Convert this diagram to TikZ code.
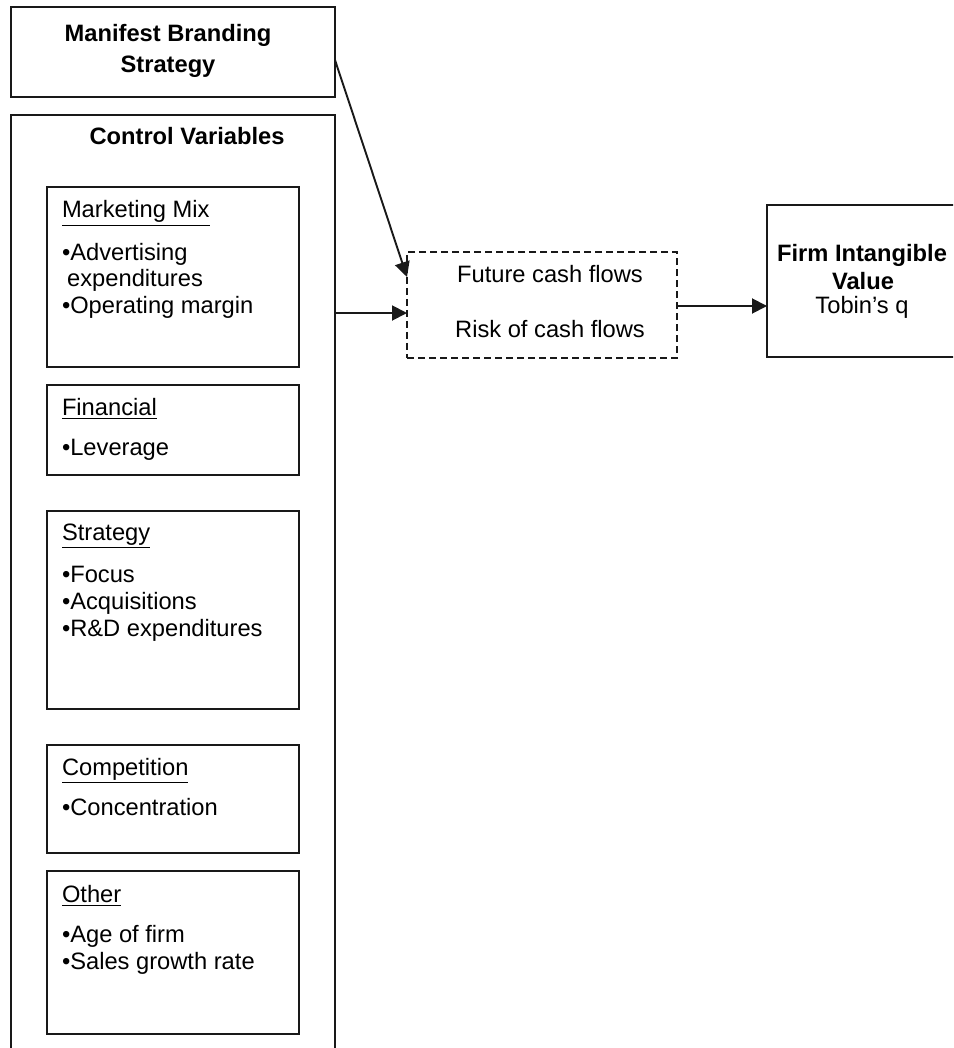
\documentclass[tikz,border=0pt]{standalone}
\usepackage{fontspec}
\setmainfont{Liberation Sans}
\usetikzlibrary{arrows.meta,calc}
\begin{document}
\begin{tikzpicture}[x=0.5pt,y=-0.5pt,
  box/.style={draw=black!90, line width=0.95pt, inner sep=0pt, outer sep=0pt},
  dbox/.style={draw=black!90, line width=0.85pt, dash pattern=on 3.3pt off 2.2pt, inner sep=0pt, outer sep=0pt},
  txt/.style={anchor=base west, inner sep=0pt, outer sep=0pt, font=\fontsize{11.85}{13}\selectfont},
  ctxt/.style={anchor=base, inner sep=0pt, outer sep=0pt, font=\fontsize{11.85}{13}\selectfont},
  btxt/.style={anchor=base, inner sep=0pt, outer sep=0pt, font=\fontsize{11.85}{13}\selectfont\bfseries},
  arr/.style={draw=black!90, line width=0.95pt, -{Triangle[length=7.5pt,width=7.5pt]}}]
\useasboundingbox (0,0) rectangle (953,1048);
\clip (0,0) rectangle (953,1048);
% boxes
\node[box, minimum width=162pt, minimum height=45pt] (mbs) at (173,52) {};
\node[box, minimum width=162pt, minimum height=477.5pt] (ctrl) at (173,592.5) {};
\node[box, minimum width=126pt, minimum height=90pt] (mm) at (173,277) {};
\node[box, minimum width=126pt, minimum height=45pt] (fin) at (173,430) {};
\node[box, minimum width=126pt, minimum height=99pt] (str) at (173,610) {};
\node[box, minimum width=126pt, minimum height=54pt] (comp) at (173,799) {};
\node[box, minimum width=126pt, minimum height=81.5pt] (oth) at (173,952.5) {};
\node[dbox, minimum width=135pt, minimum height=53pt] (dash) at (542,305) {};
\node[box, minimum width=101.5pt, minimum height=76pt] (firm) at (868.5,281) {};
% texts
\node[btxt] (t1) at (168,42) {Manifest Branding};
\node[btxt] (t2) at (168,73) {Strategy};
\node[btxt] (t3) at (187,145) {Control Variables};
\node[txt] (m0) at (62,218) {\underline{Marketing Mix}};
\node[txt] (m1) at (62,260) {•Advertising};
\node[txt] (m2) at (62,286) {\hspace{2.6pt}expenditures};
\node[txt] (m3) at (62,313) {•Operating margin};
\node[txt] (f0) at (62,415) {\underline{Financial}};
\node[txt] (f1) at (62,455) {•Leverage};
\node[txt] (s0) at (62,540) {\underline{Strategy}};
\node[txt] (s1) at (62,582) {•Focus};
\node[txt] (s2) at (62,609) {•Acquisitions};
\node[txt] (s3) at (62,636) {•R\&D expenditures};
\node[txt] (c0) at (62,775) {\underline{Competition}};
\node[txt] (c1) at (62,815) {•Concentration};
\node[txt] (o0) at (62,902) {\underline{Other}};
\node[txt] (o1) at (62,942) {•Age of firm};
\node[txt] (o2) at (62,969) {•Sales growth rate};
\node[ctxt] (d1) at (550,282) {Future cash flows};
\node[ctxt] (d2) at (550,337) {Risk of cash flows};
\node[btxt] (v1) at (862,262) {Firm Intangible};
\node[btxt] (v2) at (863,289) {Value};
\node[ctxt] (v3) at (862,313) {Tobin’s q};
% connectors
\coordinate (a1) at ($(mbs.east)+(0,8)$);
\coordinate (a2) at ($(dash.north west)+(0,25)$);
\draw[arr] (a1) -- (a2);
\coordinate (b1) at ($(ctrl.east |- dash.west)+(0,8)$);
\coordinate (b2) at ($(dash.west)+(0,8)$);
\draw[arr] (b1) -- (b2);
\coordinate (c1p) at ($(dash.east)+(0,1)$);
\coordinate (c2p) at (firm.west |- c1p);
\draw[arr] (c1p) -- (c2p);
\end{tikzpicture}
\end{document}
